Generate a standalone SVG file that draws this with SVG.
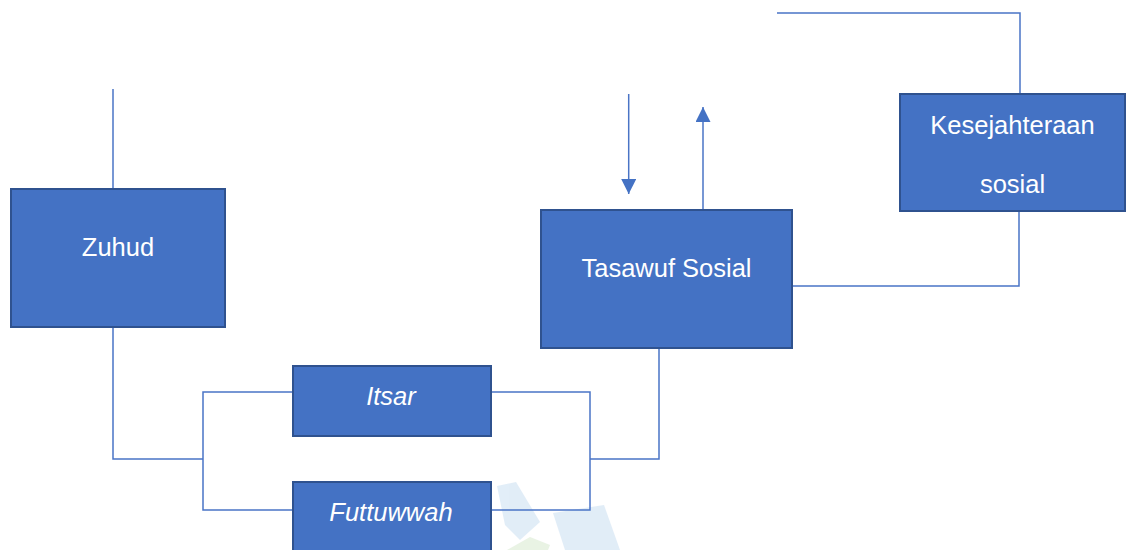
<svg xmlns="http://www.w3.org/2000/svg" width="1130" height="550" viewBox="0 0 1130 550">
  <defs>
    <style>
      .box { fill: #4472C4; stroke: #2F528F; stroke-width: 2; }
      .lbl { fill: #FFFFFF; font-family: "Liberation Sans", "Open Sans", sans-serif; font-size: 25.5px; text-anchor: middle; }
      .it { font-style: italic; }
      .con { fill: none; stroke: #4A74C6; stroke-width: 1.5; }
      .wm { opacity: 0.2; }
    </style>
    <marker id="arrow" viewBox="0 0 15 15" refX="15" refY="7.5" markerWidth="15" markerHeight="15" markerUnits="userSpaceOnUse" orient="auto">
      <path d="M0,0 L15,7.5 L0,15 Z" fill="#4472C4"/>
    </marker>
  </defs>
  <rect width="1130" height="550" fill="#FFFFFF"/>

  <g id="watermark" class="wm">
    <polygon points="497,486 516,482 540,522 520,540 505,525" fill="#6FA8DC"/>
    <polygon points="553,513 604,505 620,550 565,550" fill="#6FA8DC"/>
    <polygon points="507,550 530,537 550,545 548,550" fill="#93C47D"/>
  </g>

  <g id="connectors">
    <path class="con" d="M113,89 V189"/>
    <path class="con" d="M113,327 V459 H203"/>
    <path class="con" d="M293,392 H203 V510 H293"/>
    <path class="con" d="M491,392 H590 V510 H491"/>
    <path class="con" d="M590,459 H659 V348"/>
    <path class="con" d="M628.7,94 V194" marker-end="url(#arrow)"/>
    <path class="con" d="M703,210 V107" marker-end="url(#arrow)"/>
    <path class="con" d="M792,286 H1019 V211"/>
    <path class="con" d="M777,13 H1020 V94"/>
  </g>

  <g id="zuhud">
    <rect class="box" x="11" y="189" width="214" height="138"/>
    <text class="lbl" x="118" y="256">Zuhud</text>
  </g>

  <g id="itsar">
    <rect class="box" x="293" y="366" width="198" height="70"/>
    <text class="lbl it" x="391" y="405">Itsar</text>
  </g>

  <g id="futtuwwah">
    <rect class="box" x="293" y="482" width="198" height="80"/>
    <text class="lbl it" x="391" y="521">Futtuwwah</text>
  </g>

  <g id="tasawuf-sosial">
    <rect class="box" x="541" y="210" width="251" height="138"/>
    <text class="lbl" x="666.5" y="277">Tasawuf Sosial</text>
  </g>

  <g id="kesejahteraan-sosial">
    <rect class="box" x="900" y="94" width="225" height="117"/>
    <text class="lbl" x="1012.5" y="134">Kesejahteraan</text>
    <text class="lbl" x="1012.5" y="193">sosial</text>
  </g>
</svg>
